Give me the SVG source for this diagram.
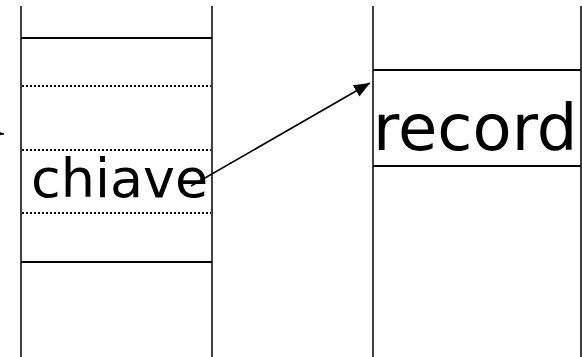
<svg xmlns="http://www.w3.org/2000/svg" width="582" height="357" viewBox="0 0 582 357">
<style>
.v{stroke:#000;stroke-width:1.5;fill:none}
.s{stroke:#000;stroke-width:2;fill:none}
.d{stroke:#000;stroke-width:2;stroke-dasharray:2 2;fill:none}
.c{stroke:#000;stroke-width:1.6;fill:none}
text{font-family:"DejaVu Sans","Liberation Sans",sans-serif;fill:#000}
</style>
<defs>
<marker id="ah" viewBox="0 0 16 13" refX="16" refY="6.5" markerWidth="16" markerHeight="13" markerUnits="userSpaceOnUse" orient="auto">
<path d="M0,0 L16,6.5 L0,13 z" fill="#000"/>
</marker>
</defs>
<rect width="582" height="357" fill="#fff"/>
<g id="array">
<line class="v" x1="21" y1="6" x2="21" y2="357"/>
<line class="v" x1="212" y1="6" x2="212" y2="357"/>
<line class="s" x1="21" y1="38" x2="212" y2="38"/>
<line class="d" x1="22" y1="86" x2="211" y2="86"/>
<line class="d" x1="22" y1="150" x2="211" y2="150"/>
<line class="d" x1="22" y1="213" x2="211" y2="213"/>
<line class="s" x1="21" y1="262" x2="212" y2="262"/>
<text x="31" y="197" font-size="54">chiave</text>
</g>
<g id="file">
<line class="v" x1="373" y1="6" x2="373" y2="357"/>
<line class="v" x1="581" y1="6" x2="581" y2="357"/>
<line class="s" x1="373" y1="70" x2="581" y2="70"/>
<line class="s" x1="373" y1="166" x2="581" y2="166"/>
<text x="373" y="150" font-size="64">record</text>
</g>
<g id="connectors">
<line class="c" x1="191" y1="186" x2="370" y2="83" marker-end="url(#ah)"/>
<line class="c" x1="-30" y1="131" x2="4" y2="134" marker-end="url(#ah)"/>
</g>
</svg>
